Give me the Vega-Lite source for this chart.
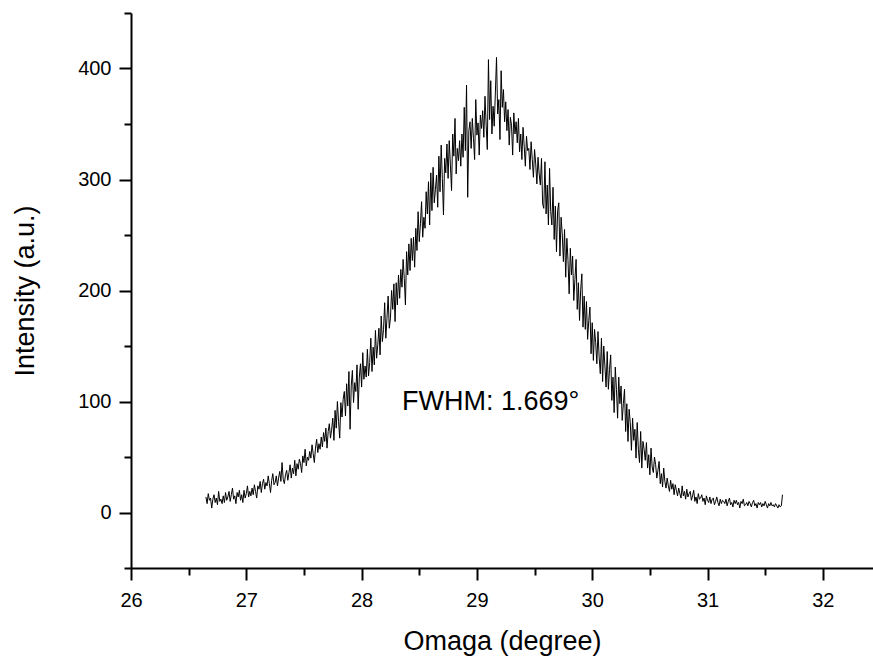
{
  "$schema": "https://vega.github.io/schema/vega-lite/v6.json",
  "autosize": "none",
  "width": 742,
  "height": 555,
  "padding": {"left": 131, "top": 13, "right": 0, "bottom": 90},
  "background": "white",
  "config": {"view": {"stroke": null}},
  "resolve": {"axis": {"x": "independent", "y": "independent"}},
  "layer": [
    {
      "data": {"values": [
        {"x":26.65,"y":14},{"x":26.66,"y":8},{"x":26.67,"y":17},{"x":26.68,"y":11},{"x":26.69,"y":13},{"x":26.70,"y":4},{"x":26.71,"y":12},{"x":26.72,"y":16},{"x":26.73,"y":9},{"x":26.74,"y":13},
        {"x":26.75,"y":7},{"x":26.76,"y":19},{"x":26.77,"y":10},{"x":26.78,"y":12},{"x":26.79,"y":8},{"x":26.80,"y":15},{"x":26.81,"y":9},{"x":26.82,"y":18},{"x":26.83,"y":11},{"x":26.84,"y":14},
        {"x":26.85,"y":19},{"x":26.86,"y":10},{"x":26.87,"y":16},{"x":26.88,"y":22},{"x":26.89,"y":12},{"x":26.90,"y":15},{"x":26.91,"y":8},{"x":26.92,"y":18},{"x":26.93,"y":14},{"x":26.94,"y":20},
        {"x":26.95,"y":11},{"x":26.96,"y":16},{"x":26.97,"y":9},{"x":26.98,"y":20},{"x":26.99,"y":13},{"x":27.00,"y":17},{"x":27.01,"y":24},{"x":27.02,"y":14},{"x":27.03,"y":19},{"x":27.04,"y":15},
        {"x":27.05,"y":22},{"x":27.06,"y":16},{"x":27.07,"y":25},{"x":27.08,"y":19},{"x":27.09,"y":13},{"x":27.10,"y":24},{"x":27.11,"y":21},{"x":27.12,"y":28},{"x":27.13,"y":18},{"x":27.14,"y":26},
        {"x":27.15,"y":30},{"x":27.16,"y":21},{"x":27.17,"y":27},{"x":27.18,"y":24},{"x":27.19,"y":33},{"x":27.20,"y":26},{"x":27.21,"y":18},{"x":27.22,"y":29},{"x":27.23,"y":35},{"x":27.24,"y":25},
        {"x":27.25,"y":27},{"x":27.26,"y":33},{"x":27.27,"y":24},{"x":27.28,"y":31},{"x":27.29,"y":37},{"x":27.30,"y":28},{"x":27.31,"y":45},{"x":27.32,"y":30},{"x":27.33,"y":26},{"x":27.34,"y":34},
        {"x":27.35,"y":38},{"x":27.36,"y":29},{"x":27.37,"y":36},{"x":27.38,"y":43},{"x":27.39,"y":31},{"x":27.40,"y":40},{"x":27.41,"y":35},{"x":27.42,"y":47},{"x":27.43,"y":33},{"x":27.44,"y":44},
        {"x":27.45,"y":39},{"x":27.46,"y":48},{"x":27.47,"y":44},{"x":27.48,"y":36},{"x":27.49,"y":51},{"x":27.50,"y":45},{"x":27.51,"y":57},{"x":27.52,"y":42},{"x":27.53,"y":50},{"x":27.54,"y":47},
        {"x":27.55,"y":55},{"x":27.56,"y":49},{"x":27.57,"y":61},{"x":27.58,"y":53},{"x":27.59,"y":45},{"x":27.60,"y":58},{"x":27.61,"y":66},{"x":27.62,"y":54},{"x":27.63,"y":62},{"x":27.64,"y":57},
        {"x":27.65,"y":68},{"x":27.66,"y":59},{"x":27.67,"y":72},{"x":27.68,"y":64},{"x":27.69,"y":76},{"x":27.70,"y":58},{"x":27.71,"y":73},{"x":27.72,"y":80},{"x":27.73,"y":67},{"x":27.74,"y":75},
        {"x":27.75,"y":85},{"x":27.76,"y":65},{"x":27.77,"y":92},{"x":27.78,"y":76},{"x":27.79,"y":100},{"x":27.80,"y":82},{"x":27.81,"y":67},{"x":27.82,"y":99},{"x":27.83,"y":86},{"x":27.84,"y":102},
        {"x":27.85,"y":109},{"x":27.86,"y":87},{"x":27.87,"y":116},{"x":27.88,"y":96},{"x":27.89,"y":127},{"x":27.90,"y":75},{"x":27.91,"y":114},{"x":27.92,"y":128},{"x":27.93,"y":99},{"x":27.94,"y":117},
        {"x":27.95,"y":109},{"x":27.96,"y":133},{"x":27.97,"y":93},{"x":27.98,"y":122},{"x":27.99,"y":134},{"x":28.00,"y":113},{"x":28.01,"y":144},{"x":28.02,"y":120},{"x":28.03,"y":132},{"x":28.04,"y":122},
        {"x":28.05,"y":147},{"x":28.06,"y":123},{"x":28.07,"y":135},{"x":28.08,"y":157},{"x":28.09,"y":127},{"x":28.10,"y":149},{"x":28.11,"y":133},{"x":28.12,"y":164},{"x":28.13,"y":139},{"x":28.14,"y":151},
        {"x":28.15,"y":166},{"x":28.16,"y":142},{"x":28.17,"y":177},{"x":28.18,"y":154},{"x":28.19,"y":165},{"x":28.20,"y":189},{"x":28.21,"y":157},{"x":28.22,"y":175},{"x":28.23,"y":195},{"x":28.24,"y":166},
        {"x":28.25,"y":175},{"x":28.26,"y":200},{"x":28.27,"y":183},{"x":28.28,"y":206},{"x":28.29,"y":172},{"x":28.30,"y":207},{"x":28.31,"y":187},{"x":28.32,"y":214},{"x":28.33,"y":193},{"x":28.34,"y":219},
        {"x":28.35,"y":203},{"x":28.36,"y":228},{"x":28.37,"y":211},{"x":28.38,"y":187},{"x":28.39,"y":235},{"x":28.40,"y":214},{"x":28.41,"y":242},{"x":28.42,"y":218},{"x":28.43,"y":247},{"x":28.44,"y":227},
        {"x":28.45,"y":248},{"x":28.46,"y":221},{"x":28.47,"y":256},{"x":28.48,"y":236},{"x":28.49,"y":271},{"x":28.50,"y":244},{"x":28.51,"y":260},{"x":28.52,"y":280},{"x":28.53,"y":248},{"x":28.54,"y":266},
        {"x":28.55,"y":256},{"x":28.56,"y":289},{"x":28.57,"y":269},{"x":28.58,"y":298},{"x":28.59,"y":259},{"x":28.60,"y":306},{"x":28.61,"y":272},{"x":28.62,"y":311},{"x":28.63,"y":279},{"x":28.64,"y":291},
        {"x":28.65,"y":304},{"x":28.66,"y":275},{"x":28.67,"y":321},{"x":28.68,"y":289},{"x":28.69,"y":331},{"x":28.70,"y":301},{"x":28.71,"y":268},{"x":28.72,"y":319},{"x":28.73,"y":306},{"x":28.74,"y":332},
        {"x":28.75,"y":301},{"x":28.76,"y":335},{"x":28.77,"y":313},{"x":28.78,"y":290},{"x":28.79,"y":341},{"x":28.80,"y":321},{"x":28.81,"y":355},{"x":28.82,"y":305},{"x":28.83,"y":328},{"x":28.84,"y":317},
        {"x":28.85,"y":335},{"x":28.86,"y":312},{"x":28.87,"y":341},{"x":28.88,"y":320},{"x":28.89,"y":365},{"x":28.90,"y":326},{"x":28.91,"y":385},{"x":28.92,"y":284},{"x":28.93,"y":344},{"x":28.94,"y":352},
        {"x":28.95,"y":328},{"x":28.96,"y":355},{"x":28.97,"y":337},{"x":28.98,"y":318},{"x":28.99,"y":372},{"x":29.00,"y":340},{"x":29.01,"y":351},{"x":29.02,"y":322},{"x":29.03,"y":358},{"x":29.04,"y":346},
        {"x":29.05,"y":362},{"x":29.06,"y":338},{"x":29.07,"y":375},{"x":29.08,"y":349},{"x":29.09,"y":327},{"x":29.10,"y":408},{"x":29.11,"y":354},{"x":29.12,"y":389},{"x":29.13,"y":341},{"x":29.14,"y":366},
        {"x":29.15,"y":348},{"x":29.16,"y":378},{"x":29.17,"y":410},{"x":29.18,"y":359},{"x":29.19,"y":372},{"x":29.20,"y":336},{"x":29.21,"y":398},{"x":29.22,"y":365},{"x":29.23,"y":381},{"x":29.24,"y":352},
        {"x":29.25,"y":370},{"x":29.26,"y":344},{"x":29.27,"y":363},{"x":29.28,"y":331},{"x":29.29,"y":356},{"x":29.30,"y":349},{"x":29.31,"y":322},{"x":29.32,"y":360},{"x":29.33,"y":341},{"x":29.34,"y":352},
        {"x":29.35,"y":333},{"x":29.36,"y":355},{"x":29.37,"y":325},{"x":29.38,"y":341},{"x":29.39,"y":318},{"x":29.40,"y":347},{"x":29.41,"y":330},{"x":29.42,"y":312},{"x":29.43,"y":339},{"x":29.44,"y":326},
        {"x":29.45,"y":328},{"x":29.46,"y":309},{"x":29.47,"y":334},{"x":29.48,"y":318},{"x":29.49,"y":302},{"x":29.50,"y":327},{"x":29.51,"y":314},{"x":29.52,"y":296},{"x":29.53,"y":320},{"x":29.54,"y":305},
        {"x":29.55,"y":295},{"x":29.56,"y":319},{"x":29.57,"y":278},{"x":29.58,"y":274},{"x":29.59,"y":316},{"x":29.60,"y":269},{"x":29.61,"y":295},{"x":29.62,"y":259},{"x":29.63,"y":310},{"x":29.64,"y":271},
        {"x":29.65,"y":259},{"x":29.66,"y":293},{"x":29.67,"y":246},{"x":29.68,"y":276},{"x":29.69,"y":235},{"x":29.70,"y":272},{"x":29.71,"y":279},{"x":29.72,"y":231},{"x":29.73,"y":266},{"x":29.74,"y":251},
        {"x":29.75,"y":226},{"x":29.76,"y":255},{"x":29.77,"y":212},{"x":29.78,"y":247},{"x":29.79,"y":227},{"x":29.80,"y":197},{"x":29.81,"y":238},{"x":29.82,"y":214},{"x":29.83,"y":231},{"x":29.84,"y":191},
        {"x":29.85,"y":210},{"x":29.86,"y":228},{"x":29.87,"y":183},{"x":29.88,"y":207},{"x":29.89,"y":173},{"x":29.90,"y":201},{"x":29.91,"y":215},{"x":29.92,"y":167},{"x":29.93,"y":195},{"x":29.94,"y":165},
        {"x":29.95,"y":190},{"x":29.96,"y":156},{"x":29.97,"y":173},{"x":29.98,"y":185},{"x":29.99,"y":143},{"x":30.00,"y":171},{"x":30.01,"y":137},{"x":30.02,"y":165},{"x":30.03,"y":153},{"x":30.04,"y":134},
        {"x":30.05,"y":163},{"x":30.06,"y":140},{"x":30.07,"y":125},{"x":30.08,"y":157},{"x":30.09,"y":118},{"x":30.10,"y":150},{"x":30.11,"y":132},{"x":30.12,"y":113},{"x":30.13,"y":145},{"x":30.14,"y":111},
        {"x":30.15,"y":129},{"x":30.16,"y":142},{"x":30.17,"y":101},{"x":30.18,"y":122},{"x":30.19,"y":90},{"x":30.20,"y":131},{"x":30.21,"y":111},{"x":30.22,"y":85},{"x":30.23,"y":122},{"x":30.24,"y":98},
        {"x":30.25,"y":114},{"x":30.26,"y":83},{"x":30.27,"y":98},{"x":30.28,"y":111},{"x":30.29,"y":73},{"x":30.30,"y":98},{"x":30.31,"y":64},{"x":30.32,"y":93},{"x":30.33,"y":81},{"x":30.34,"y":56},
        {"x":30.35,"y":85},{"x":30.36,"y":65},{"x":30.37,"y":75},{"x":30.38,"y":49},{"x":30.39,"y":81},{"x":30.40,"y":57},{"x":30.41,"y":45},{"x":30.42,"y":73},{"x":30.43,"y":40},{"x":30.44,"y":64},
        {"x":30.45,"y":57},{"x":30.46,"y":47},{"x":30.47,"y":63},{"x":30.48,"y":40},{"x":30.49,"y":52},{"x":30.50,"y":34},{"x":30.51,"y":58},{"x":30.52,"y":41},{"x":30.53,"y":36},{"x":30.54,"y":50},
        {"x":30.55,"y":43},{"x":30.56,"y":31},{"x":30.57,"y":38},{"x":30.58,"y":46},{"x":30.59,"y":26},{"x":30.60,"y":35},{"x":30.61,"y":23},{"x":30.62,"y":40},{"x":30.63,"y":28},{"x":30.64,"y":22},
        {"x":30.65,"y":31},{"x":30.66,"y":24},{"x":30.67,"y":19},{"x":30.68,"y":29},{"x":30.69,"y":21},{"x":30.70,"y":26},{"x":30.71,"y":16},{"x":30.72,"y":25},{"x":30.73,"y":20},{"x":30.74,"y":15},
        {"x":30.75,"y":22},{"x":30.76,"y":17},{"x":30.77,"y":13},{"x":30.78,"y":24},{"x":30.79,"y":15},{"x":30.80,"y":19},{"x":30.81,"y":12},{"x":30.82,"y":21},{"x":30.83,"y":14},{"x":30.84,"y":17},
        {"x":30.85,"y":19},{"x":30.86,"y":11},{"x":30.87,"y":15},{"x":30.88,"y":20},{"x":30.89,"y":10},{"x":30.90,"y":14},{"x":30.91,"y":8},{"x":30.92,"y":17},{"x":30.93,"y":12},{"x":30.94,"y":13},
        {"x":30.95,"y":16},{"x":30.96,"y":10},{"x":30.97,"y":13},{"x":30.98,"y":7},{"x":30.99,"y":15},{"x":31.00,"y":11},{"x":31.01,"y":9},{"x":31.02,"y":14},{"x":31.03,"y":8},{"x":31.04,"y":12},
        {"x":31.05,"y":13},{"x":31.06,"y":7},{"x":31.07,"y":10},{"x":31.08,"y":14},{"x":31.09,"y":9},{"x":31.10,"y":6},{"x":31.11,"y":12},{"x":31.12,"y":8},{"x":31.13,"y":11},{"x":31.14,"y":10},
        {"x":31.15,"y":8},{"x":31.16,"y":12},{"x":31.17,"y":6},{"x":31.18,"y":10},{"x":31.19,"y":13},{"x":31.20,"y":7},{"x":31.21,"y":9},{"x":31.22,"y":5},{"x":31.23,"y":11},{"x":31.24,"y":8},
        {"x":31.25,"y":11},{"x":31.26,"y":7},{"x":31.27,"y":9},{"x":31.28,"y":4},{"x":31.29,"y":10},{"x":31.30,"y":8},{"x":31.31,"y":12},{"x":31.32,"y":6},{"x":31.33,"y":7},{"x":31.34,"y":9},
        {"x":31.35,"y":6},{"x":31.36,"y":10},{"x":31.37,"y":8},{"x":31.38,"y":5},{"x":31.39,"y":9},{"x":31.40,"y":11},{"x":31.41,"y":6},{"x":31.42,"y":8},{"x":31.43,"y":4},{"x":31.44,"y":9},
        {"x":31.45,"y":7},{"x":31.46,"y":9},{"x":31.47,"y":5},{"x":31.48,"y":8},{"x":31.49,"y":6},{"x":31.50,"y":10},{"x":31.51,"y":7},{"x":31.52,"y":4},{"x":31.53,"y":8},{"x":31.54,"y":6},
        {"x":31.55,"y":9},{"x":31.56,"y":6},{"x":31.57,"y":7},{"x":31.58,"y":5},{"x":31.59,"y":8},{"x":31.60,"y":6},{"x":31.61,"y":4},{"x":31.62,"y":7},{"x":31.63,"y":5},{"x":31.64,"y":6},
        {"x":31.65,"y":16}
      ]},
      "mark": {"type": "line", "color": "black", "strokeWidth": 1},
      "encoding": {
        "x": {
          "field": "x", "type": "quantitative",
          "scale": {"domain": [26, 32.435], "nice": false, "zero": false},
          "axis": {
            "orient": "bottom",
            "title": "Omaga (degree)",
            "values": [26, 27, 28, 29, 30, 31, 32],
            "format": "d",
            "tickSize": 12,
            "grid": false,
            "domainColor": "black", "domainWidth": 2,
            "tickColor": "black", "tickWidth": 2,
            "labelFont": "Liberation Sans", "labelFontSize": 20, "labelColor": "black", "labelPadding": 10,
            "labelFlush": false, "labelOverlap": false,
            "titleFont": "Liberation Sans", "titleFontSize": 27, "titleFontWeight": "normal", "titleColor": "black", "titlePadding": 18
          }
        },
        "y": {
          "field": "y", "type": "quantitative",
          "scale": {"domain": [-50, 450], "nice": false, "zero": false},
          "axis": {
            "orient": "left",
            "title": "Intensity (a.u.)",
            "values": [0, 100, 200, 300, 400],
            "format": "d",
            "tickSize": 12,
            "grid": false,
            "domainColor": "black", "domainWidth": 2,
            "tickColor": "black", "tickWidth": 2,
            "labelFont": "Liberation Sans", "labelFontSize": 20, "labelColor": "black", "labelPadding": 8,
            "labelFlush": false, "labelOverlap": false,
            "titleFont": "Liberation Sans", "titleFontSize": 27, "titleFontWeight": "normal", "titleColor": "black", "titlePadding": 38
          }
        }
      }
    },
    {
      "data": {"values": [{"x": 28.35, "y": 92, "label": "FWHM: 1.669°"}]},
      "mark": {"type": "text", "align": "left", "baseline": "alphabetic", "font": "Liberation Sans", "fontSize": 27, "color": "black"},
      "encoding": {
        "x": {
          "field": "x", "type": "quantitative",
          "scale": {"domain": [26, 32.435], "nice": false, "zero": false},
          "axis": {
            "orient": "bottom",
            "title": null,
            "values": [26.5, 27.5, 28.5, 29.5, 30.5, 31.5],
            "labels": false,
            "domain": false,
            "grid": false,
            "tickSize": 7,
            "tickColor": "black", "tickWidth": 2
          }
        },
        "y": {
          "field": "y", "type": "quantitative",
          "scale": {"domain": [-50, 450], "nice": false, "zero": false},
          "axis": {
            "orient": "left",
            "title": null,
            "values": [-50, 50, 150, 250, 350, 450],
            "labels": false,
            "domain": false,
            "grid": false,
            "tickSize": 7,
            "tickColor": "black", "tickWidth": 2
          }
        },
        "text": {"field": "label", "type": "nominal"}
      }
    }
  ]
}
